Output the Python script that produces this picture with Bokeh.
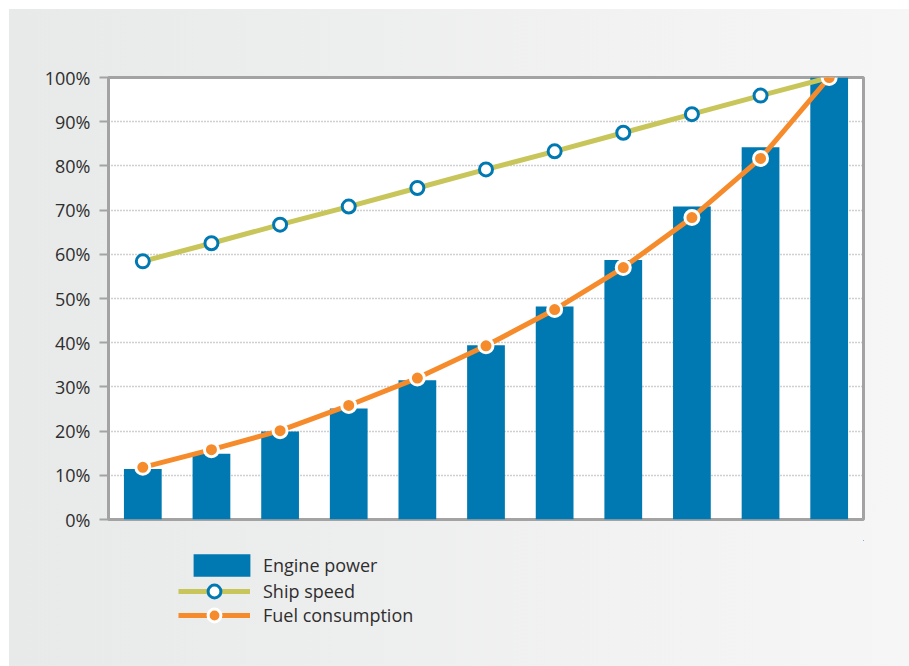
from bokeh.plotting import figure
from bokeh.layouts import column
from bokeh.models import Range1d, Legend, LegendItem, FixedTicker, ColumnDataSource
from bokeh.embed import file_html
from bokeh.resources import INLINE

steps = [1, 2, 3, 4, 5, 6, 7, 8, 9, 10, 11]
engine_power = [11.4, 14.9, 19.9, 25.1, 31.5, 39.4, 48.2, 58.7, 70.8, 84.2, 100.0]
ship_speed = [58.4, 62.5, 66.7, 70.8, 75.0, 79.2, 83.3, 87.5, 91.7, 95.9, 100.0]
fuel_consumption = [11.8, 15.8, 20.1, 25.8, 32.0, 39.3, 47.5, 57.0, 68.3, 81.7, 100.0]
y_ticks = [0, 10, 20, 30, 40, 50, 60, 70, 80, 90, 100]
y_tick_labels = {t: f"{t}%" for t in y_ticks}
series_labels = ["Engine power", "Ship speed", "Fuel consumption"]

BLUE = "#0079b3"
OLIVE = "#c8c65a"
ORANGE = "#f68b2c"
GRAY = "#a3a3a3"
FONT = "Open Sans"
TEXT = "#2e2e2e"
GRAD = "linear-gradient(to right, #e8e9e9, #f6f6f6)"

W = 909
H_MAIN = 540
H_LEG = 126

src = ColumnDataSource(dict(x=steps, power=engine_power, speed=ship_speed, fuel=fuel_consumption))

p = figure(width=W, height=H_MAIN, output_backend="svg", toolbar_location=None,
           x_range=Range1d(0.5, 11.5), y_range=Range1d(0, 100),
           x_axis_location=None,
           frame_width=755, frame_height=442,
           min_border_left=108, min_border_right=46, min_border_top=77, min_border_bottom=21)
p.styles = {"background": f"{GRAD} 9px 9px / 900px {H_MAIN - 9}px no-repeat"}
p.border_fill_color = None
p.background_fill_color = "white"
p.outline_line_color = GRAY
p.outline_line_width = 3

bar_style = dict(fill_color=BLUE, line_color=None)
speed_line = dict(line_color=OLIVE, line_width=5)
speed_mark = dict(size=13, fill_color="white", line_color=BLUE, line_width=3)
fuel_line = dict(line_color=ORANGE, line_width=5)
fuel_mark = dict(size=14, fill_color=ORANGE, line_color="white", line_width=3)

p.vbar(x="x", top="power", width=0.55, source=src, **bar_style)
p.line("x", "speed", source=src, **speed_line)
p.scatter("x", "speed", source=src, **speed_mark)
p.line("x", "fuel", source=src, **fuel_line)
p.scatter("x", "fuel", source=src, **fuel_mark)

p.xgrid.visible = False
p.ygrid.ticker = FixedTicker(ticks=y_ticks)
p.ygrid.grid_line_color = "#a0a0a0"
p.ygrid.grid_line_dash = "1 2"
p.ygrid.grid_line_width = 1.4

ya = p.yaxis[0]
ya.ticker = FixedTicker(ticks=y_ticks)
ya.major_label_overrides = y_tick_labels
ya.axis_line_color = GRAY
ya.axis_line_width = 3
ya.major_tick_line_color = GRAY
ya.major_tick_line_width = 2
ya.major_tick_out = 9
ya.major_tick_in = 0
ya.minor_tick_line_color = None
ya.major_label_standoff = 9
ya.major_label_text_font = FONT
ya.major_label_text_font_size = "18px"
ya.major_label_text_color = TEXT

# Legend panel: a separate figure so the legend is not clipped by the main frame.
# Its ranges lie away from the data, so the shared renderers only feed the legend swatches.
q = figure(width=W, height=H_LEG, output_backend="svg", toolbar_location=None,
           x_range=Range1d(-200, -199), y_range=Range1d(-200, -199),
           x_axis_location=None, y_axis_location=None,
           min_border_left=0, min_border_right=0, min_border_top=0, min_border_bottom=0)
q.styles = {"background": f"{GRAD} 9px 0px / 900px {H_LEG}px no-repeat"}
q.border_fill_color = None
q.background_fill_color = None
q.outline_line_color = None
q.grid.visible = False

rb = q.vbar(x="x", top="power", width=0.55, source=src, **bar_style)
rsl = q.line("x", "speed", source=src, **speed_line)
rss = q.scatter("x", "speed", source=src, **speed_mark)
rfl = q.line("x", "fuel", source=src, **fuel_line)
rfs = q.scatter("x", "fuel", source=src, **fuel_mark)

common = dict(padding=0, margin=0, spacing=0,
              border_line_color=None, background_fill_alpha=0,
              label_text_font=FONT, label_text_font_size="18px", label_text_color=TEXT)
leg1 = Legend(items=[LegendItem(label=series_labels[0], renderers=[rb])],
              location=(78, 87), glyph_width=71, glyph_height=28, label_height=28,
              label_standoff=6, **common)
leg2 = Legend(items=[LegendItem(label=series_labels[1], renderers=[rsl, rss])],
              location=(70, 59), glyph_width=72, glyph_height=32, label_height=32,
              label_standoff=13, **common)
leg3 = Legend(items=[LegendItem(label=series_labels[2], renderers=[rfl, rfs])],
              location=(70, 35), glyph_width=72, glyph_height=32, label_height=32,
              label_standoff=13, **common)
q.add_layout(leg1)
q.add_layout(leg2)
q.add_layout(leg3)

layout = column(p, q, spacing=0)
open("out.html", "w").write(file_html(layout, INLINE))
